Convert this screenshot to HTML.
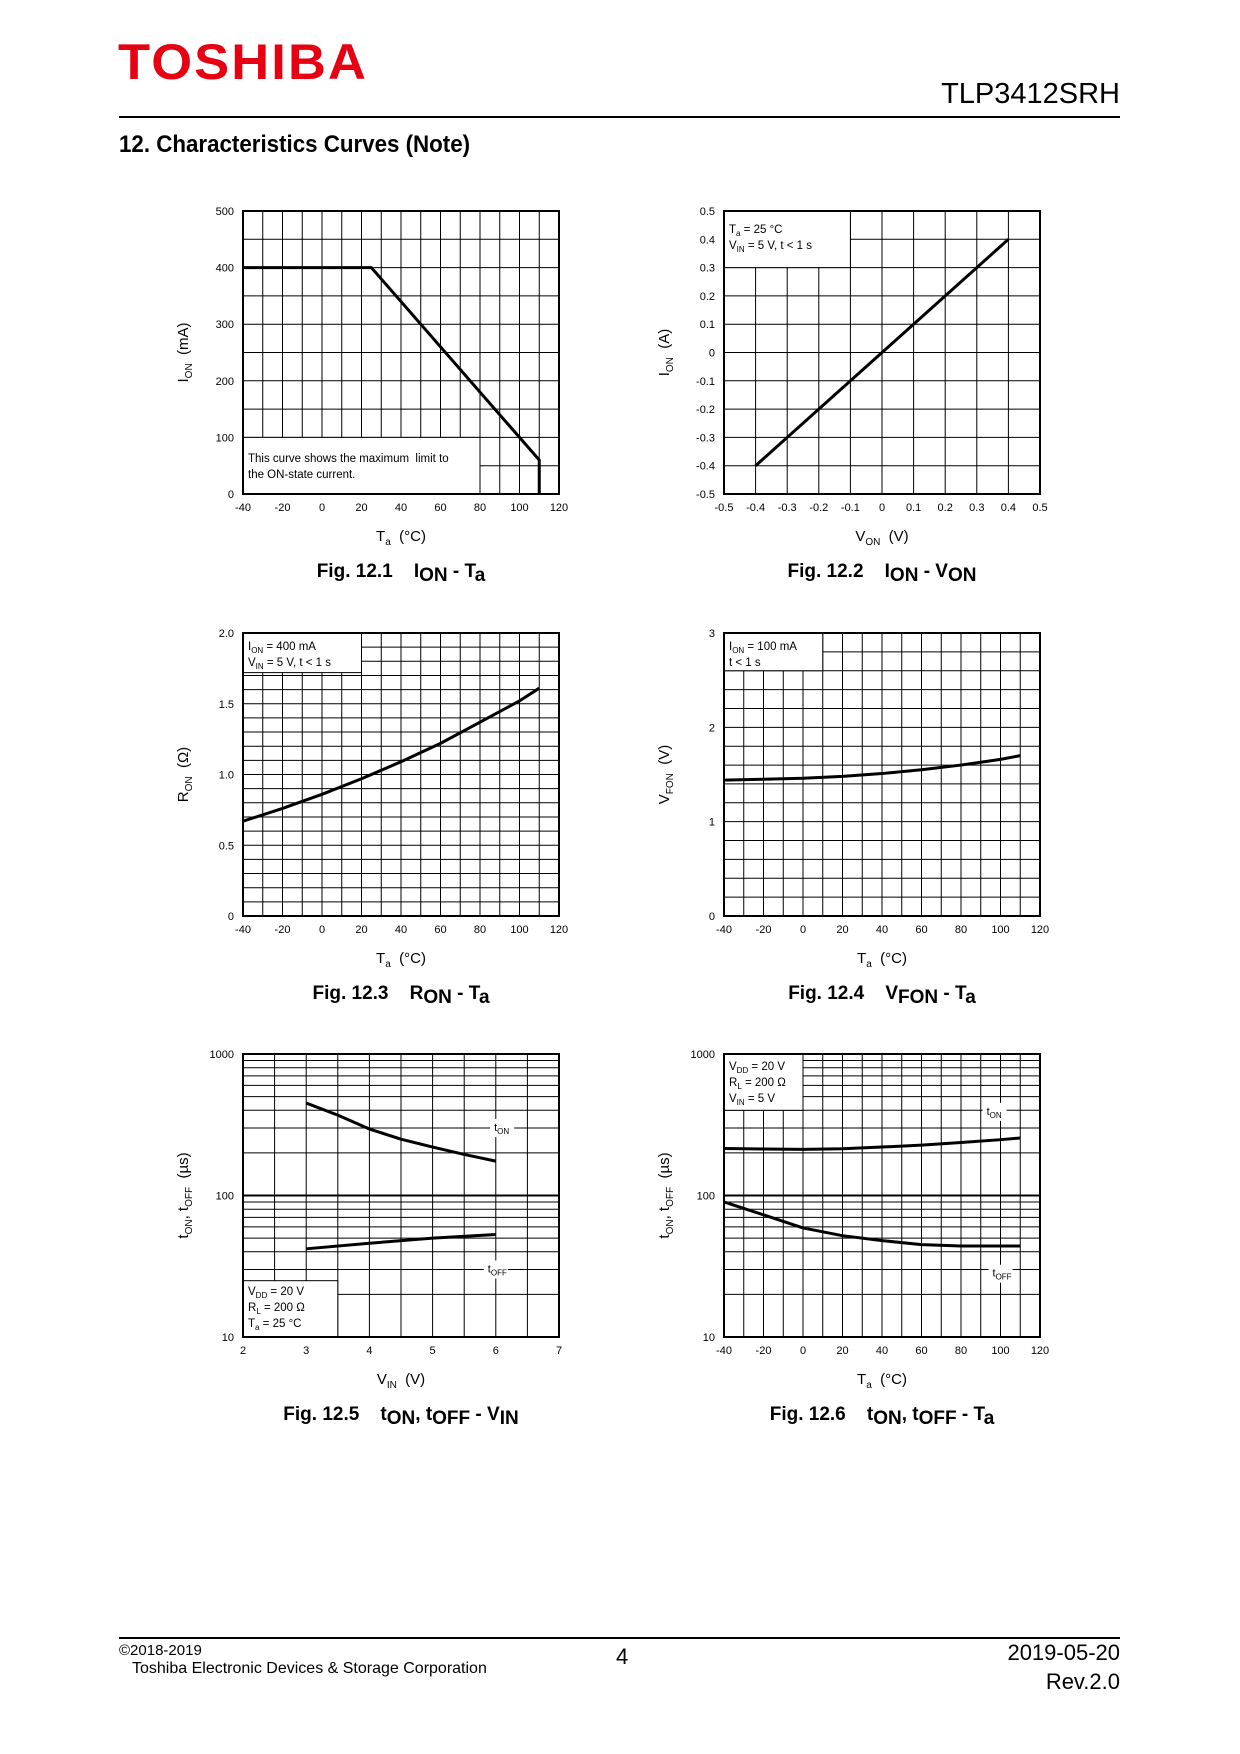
<!DOCTYPE html>
<html><head><meta charset="utf-8">
<style>
body{margin:0;background:#fff;}
#page{position:relative;width:1240px;height:1754px;background:#fff;font-family:"Liberation Sans",sans-serif;overflow:hidden;}
.abs{position:absolute;white-space:nowrap;}
</style></head>
<body>
<div id="page">
<div class="abs" style="left:118px;top:33px;font-size:50px;font-weight:bold;color:#e60012;letter-spacing:2px;transform:scaleX(1.05);transform-origin:left top;">TOSHIBA</div>
<div class="abs" style="right:120px;top:78px;font-size:29px;color:#000;">TLP3412SRH</div>
<div class="abs" style="left:119px;top:116px;width:1001px;height:2px;background:#000;"></div>
<div class="abs" style="left:119px;top:131px;font-size:24px;font-weight:bold;transform:scaleX(0.93);transform-origin:left top;">12. Characteristics Curves (Note)</div>
<svg id="charts" class="abs" style="left:0;top:0" width="1240" height="1754"></svg>
<div class="abs" style="left:119px;top:1637px;width:1001px;height:2px;background:#000;"></div>
<div class="abs" style="left:119px;top:1642px;font-size:15px;">©2018-2019</div>
<div class="abs" style="left:132px;top:1660px;font-size:16px;">Toshiba Electronic Devices &amp; Storage Corporation</div>
<div class="abs" style="left:616px;top:1644px;font-size:22px;">4</div>
<div class="abs" style="right:120px;top:1640px;font-size:22px;">2019-05-20</div>
<div class="abs" style="right:120px;top:1669px;font-size:22px;">Rev.2.0</div>
</div>
<script>
// Fig 12.1
const c1X=[-40,25,110,110];
const c1Y=[400,400,60,0];
const c1XTicks=["-40","-20","0","20","40","60","80","100","120"];
const c1YTicks=["0","100","200","300","400","500"];
// Fig 12.2
const c2X=[-0.4,0.4];
const c2Y=[-0.4,0.4];
const c2XTicks=["-0.5","-0.4","-0.3","-0.2","-0.1","0","0.1","0.2","0.3","0.4","0.5"];
const c2YTicks=["-0.5","-0.4","-0.3","-0.2","-0.1","0","0.1","0.2","0.3","0.4","0.5"];
// Fig 12.3
const c3X=[-40,-20,0,20,40,60,80,100,110];
const c3Y=[0.67,0.76,0.86,0.97,1.09,1.22,1.37,1.52,1.61];
const c3YTicks=["0","0.5","1.0","1.5","2.0"];
// Fig 12.4
const c4X=[-40,-20,0,20,40,60,80,100,110];
const c4Y=[1.44,1.45,1.46,1.48,1.51,1.55,1.60,1.66,1.70];
const c4YTicks=["0","1","2","3"];
// Fig 12.5
const c5X=[3,3.5,4,4.5,5,5.5,6];
const c5Ton=[450,370,295,250,220,195,175];
const c5OffX=[3,4,5,6];
const c5Toff=[42,46,50,53];
const c5XTicks=["2","3","4","5","6","7"];
const logTicks=["10","100","1000"];
// Fig 12.6
const c6X=[-40,-20,0,20,40,60,80,100,110];
const c6Ton=[215,213,212,214,220,227,237,248,255];
const c6Toff=[90,73,59,52,48,45,44,44,44];

const NS="http://www.w3.org/2000/svg";
const svg=document.getElementById('charts');
function el(tag,attrs,parent){const e=document.createElementNS(NS,tag);for(const k in attrs)e.setAttribute(k,attrs[k]);(parent||svg).appendChild(e);return e;}

function chart(o){
  const g=el('g',{});
  
  
  const L=o.left,T=o.top,W=316,H=o.h||283;
  const sx=v=>L+(v-o.xmin)/(o.xmax-o.xmin)*W;
  const sy=o.log? (v=>T+H-(Math.log10(v)-1)/2*H) : (v=>T+H-(v-o.ymin)/(o.ymax-o.ymin)*H);
  for(let v=o.xmin;v<=o.xmax+1e-9;v+=o.xstep){const x=sx(v);el('line',{x1:x,y1:T,x2:x,y2:T+H,stroke:'#000','stroke-width':1},g);}
  if(o.log){for(let d=10;d<1000;d*=10)for(let m=1;m<10;m++){const y=sy(d*m);el('line',{x1:L,y1:y,x2:L+W,y2:y,stroke:'#000','stroke-width':m==1?2:1},g);}}
  else{for(let v=o.ymin;v<=o.ymax+1e-9;v+=o.ystep){const y=sy(v);el('line',{x1:L,y1:y,x2:L+W,y2:y,stroke:'#000','stroke-width':1},g);}}
  if(o.box){const b=o.box;const x1=sx(b[0]),x2=sx(b[1]),y1=sy(b[3]),y2=sy(b[2]);
    el('rect',{x:x1,y:y1,width:x2-x1,height:y2-y1,fill:'#fff',stroke:'#000','stroke-width':1},g);}
  el('rect',{x:L,y:T,width:W,height:H,fill:'none',stroke:'#000','stroke-width':2},g);
  o.xt.forEach((t,i)=>{const v=o.xmin+i*(o.xmax-o.xmin)/(o.xt.length-1);const tx=el('text',{x:sx(v),y:T+H+17,'font-size':11,'text-anchor':'middle'},g);tx.textContent=t;});
  o.yt.forEach((t,i)=>{const y=T+H-i*H/(o.yt.length-1);const tx=el('text',{x:L-9,y:y+4,'font-size':11,'text-anchor':'end'},g);tx.textContent=t;});
  o.series.forEach(s=>{const p=s.x.map((x,i)=>sx(x)+','+sy(s.y[i])).join(' ');
    const pl=el('polyline',{points:p,fill:'none',stroke:'#000','stroke-width':3,'stroke-linejoin':'round'},g);
    
    });
  (o.labels||[]).forEach(lb=>{const x=sx(lb[0]),y=sy(lb[1]);
    el('rect',{x:x-12,y:y-9,width:24,height:18,fill:'#fff'},g);
    const t=el('text',{x:x-8,y:y+3,'font-size':11},g);t.innerHTML=lb[2];});
  (o.note||[]).forEach((n,i)=>{const t=el('text',{x:L+5,y:T+o.noteY+i*16,'font-size':11.5},g);t.innerHTML=n;});
  const cx=L+W/2;
  const xt=el('text',{x:cx,y:T+H+47,'font-size':15,'text-anchor':'middle'},g);xt.innerHTML=o.xtitle;
  const yx=L-55,yy=T+H/2;
  const yt=el('text',{x:yx,y:yy,'font-size':15,'text-anchor':'middle',transform:`rotate(-90 ${yx} ${yy})`},g);yt.innerHTML=o.ytitle;
  const cap=el('text',{x:cx,y:T+H+83,'font-size':19,'font-weight':'bold','text-anchor':'middle'},g);cap.innerHTML=o.caption;
}
const ta='T<tspan font-size="10" dy="4">a</tspan><tspan dy="-4">&#160; (°C)</tspan>';
chart({name:'fig-12-1-chart',left:243,top:211,xmin:-40,xmax:120,xstep:10,ymin:0,ymax:500,ystep:50,xt:c1XTicks,yt:c1YTicks,
 box:[-40,80,0,100],note:['This curve shows the maximum&#160; limit to','the ON-state current.'],noteY:251,
 series:[{name:'ion-limit-curve',x:c1X,y:c1Y}],xtitle:ta,ytitle:'I<tspan font-size="10" dy="4">ON</tspan><tspan dy="-4">&#160; (mA)</tspan>',
 caption:'Fig. 12.1&#160;&#160;&#160; I<tspan dy="4">ON</tspan><tspan dy="-4"> - T</tspan><tspan dy="4">a</tspan>'});
chart({name:'fig-12-2-chart',left:724,top:211,xmin:-0.5,xmax:0.5,xstep:0.1,ymin:-0.5,ymax:0.5,ystep:0.1,xt:c2XTicks,yt:c2YTicks,
 box:[-0.5,-0.1,0.3,0.5],note:['T<tspan font-size="8" dy="3">a</tspan><tspan dy="-3"> = 25 °C</tspan>','V<tspan font-size="8" dy="3">IN</tspan><tspan dy="-3"> = 5 V, t &lt; 1 s</tspan>'],noteY:22,
 series:[{name:'ion-von-line',x:c2X,y:c2Y}],xtitle:'V<tspan font-size="10" dy="4">ON</tspan><tspan dy="-4">&#160; (V)</tspan>',ytitle:'I<tspan font-size="10" dy="4">ON</tspan><tspan dy="-4">&#160; (A)</tspan>',
 caption:'Fig. 12.2&#160;&#160;&#160; I<tspan dy="4">ON</tspan><tspan dy="-4"> - V</tspan><tspan dy="4">ON</tspan>'});
chart({name:'fig-12-3-chart',left:243,top:633,xmin:-40,xmax:120,xstep:10,ymin:0,ymax:2,ystep:0.1,xt:c1XTicks,yt:c3YTicks,
 box:[-40,20,1.72,2.0],note:['I<tspan font-size="8" dy="3">ON</tspan><tspan dy="-3"> = 400 mA</tspan>','V<tspan font-size="8" dy="3">IN</tspan><tspan dy="-3"> = 5 V, t &lt; 1 s</tspan>'],noteY:17,
 series:[{name:'ron-curve',x:c3X,y:c3Y}],xtitle:ta,ytitle:'R<tspan font-size="10" dy="4">ON</tspan><tspan dy="-4">&#160; (Ω)</tspan>',
 caption:'Fig. 12.3&#160;&#160;&#160; R<tspan dy="4">ON</tspan><tspan dy="-4"> - T</tspan><tspan dy="4">a</tspan>'});
chart({name:'fig-12-4-chart',left:724,top:633,xmin:-40,xmax:120,xstep:10,ymin:0,ymax:3,ystep:0.2,xt:c1XTicks,yt:c4YTicks,
 box:[-40,10,2.6,3.0],note:['I<tspan font-size="8" dy="3">ON</tspan><tspan dy="-3"> = 100 mA</tspan>','t &lt; 1 s'],noteY:17,
 series:[{name:'vfon-curve',x:c4X,y:c4Y}],xtitle:ta,ytitle:'V<tspan font-size="10" dy="4">FON</tspan><tspan dy="-4">&#160; (V)</tspan>',
 caption:'Fig. 12.4&#160;&#160;&#160; V<tspan dy="4">FON</tspan><tspan dy="-4"> - T</tspan><tspan dy="4">a</tspan>'});
chart({name:'fig-12-5-chart',left:243,top:1054,log:true,xmin:2,xmax:7,xstep:0.5,xt:c5XTicks,yt:logTicks,
 box:[2,3.5,10,25],note:['V<tspan font-size="8" dy="3">DD</tspan><tspan dy="-3"> = 20 V</tspan>','R<tspan font-size="8" dy="3">L</tspan><tspan dy="-3"> = 200 Ω</tspan>','T<tspan font-size="8" dy="3">a</tspan><tspan dy="-3"> = 25 °C</tspan>'],noteY:241,
 labels:[[6.1,300,'t<tspan font-size="8" dy="3">ON</tspan>'],[6.0,30,'t<tspan font-size="8" dy="3">OFF</tspan>']],
 series:[{name:'ton-curve',x:c5X,y:c5Ton},{name:'toff-curve',x:c5OffX,y:c5Toff}],
 xtitle:'V<tspan font-size="10" dy="4">IN</tspan><tspan dy="-4">&#160; (V)</tspan>',ytitle:'t<tspan font-size="10" dy="4">ON</tspan><tspan dy="-4">, t</tspan><tspan font-size="10" dy="4">OFF</tspan><tspan dy="-4">&#160; (µs)</tspan>',
 caption:'Fig. 12.5&#160;&#160;&#160; t<tspan dy="4">ON</tspan><tspan dy="-4">, t</tspan><tspan dy="4">OFF</tspan><tspan dy="-4"> - V</tspan><tspan dy="4">IN</tspan>'});
chart({name:'fig-12-6-chart',left:724,top:1054,log:true,xmin:-40,xmax:120,xstep:10,xt:c1XTicks,yt:logTicks,
 box:[-40,0,400,1000],note:['V<tspan font-size="8" dy="3">DD</tspan><tspan dy="-3"> = 20 V</tspan>','R<tspan font-size="8" dy="3">L</tspan><tspan dy="-3"> = 200 Ω</tspan>','V<tspan font-size="8" dy="3">IN</tspan><tspan dy="-3"> = 5 V</tspan>'],noteY:16,
 labels:[[97,390,'t<tspan font-size="8" dy="3">ON</tspan>'],[100,28,'t<tspan font-size="8" dy="3">OFF</tspan>']],
 series:[{name:'ton-curve',x:c6X,y:c6Ton},{name:'toff-curve',x:c6X,y:c6Toff}],
 xtitle:ta,ytitle:'t<tspan font-size="10" dy="4">ON</tspan><tspan dy="-4">, t</tspan><tspan font-size="10" dy="4">OFF</tspan><tspan dy="-4">&#160; (µs)</tspan>',
 caption:'Fig. 12.6&#160;&#160;&#160; t<tspan dy="4">ON</tspan><tspan dy="-4">, t</tspan><tspan dy="4">OFF</tspan><tspan dy="-4"> - T</tspan><tspan dy="4">a</tspan>'});
</script>
</body></html>
